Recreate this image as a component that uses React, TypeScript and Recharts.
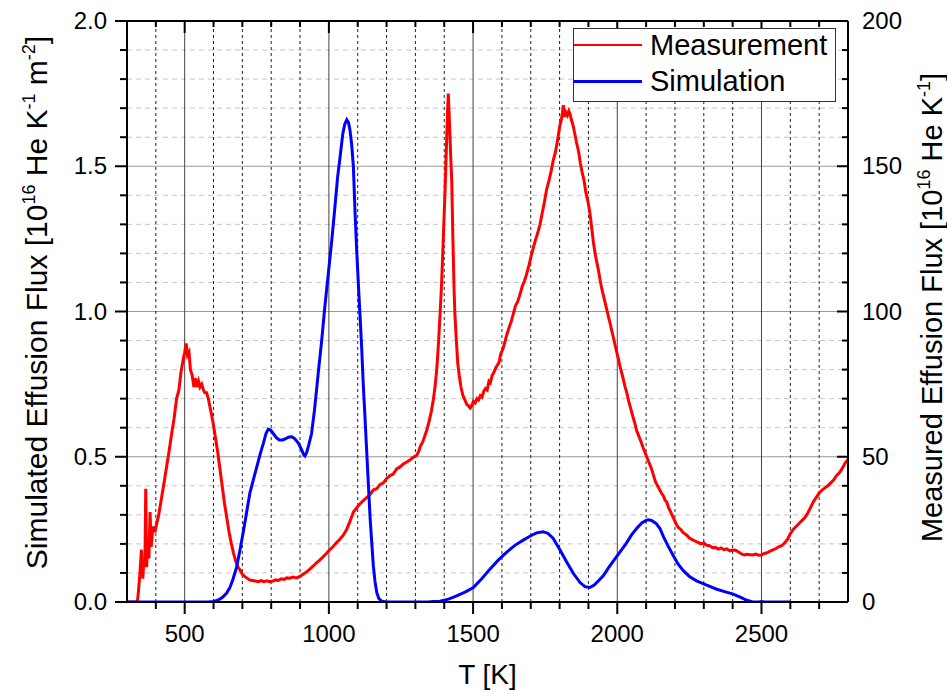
import React from "react";
import { LineChart, Line, XAxis, YAxis, ReferenceLine, Legend } from "recharts";

// measured effusion flux (right axis, 1e16 He/K)
const measT = [
  300, 330, 336, 340, 345, 350, 355, 358, 362, 365,
  368, 372, 376, 380, 384, 388, 392, 397, 403, 410,
  420, 430, 438, 446, 455, 463, 472, 480, 487, 494,
  500, 505, 510, 515, 520, 526, 532, 537, 542, 548,
  553, 559, 565, 570, 576, 582, 590, 598, 606, 614,
  622, 630, 638, 646, 654, 662, 669, 677, 685, 692,
  700, 708, 715, 725, 735, 745, 755, 765, 775, 785,
  795, 806, 815, 825, 835, 845, 854, 865, 875, 888,
  900, 912, 923, 935, 946, 958, 969, 980, 992, 1003,
  1014, 1026, 1038, 1050, 1062, 1074, 1085, 1097, 1108, 1120,
  1132, 1143, 1155, 1166, 1178, 1189, 1200, 1212, 1223, 1235,
  1247, 1258, 1270, 1282, 1293, 1305, 1312, 1318, 1325, 1332,
  1339, 1347, 1355, 1362, 1368, 1374, 1380, 1386, 1391, 1397,
  1403, 1408, 1412, 1414, 1417, 1420, 1423, 1426, 1430, 1434,
  1437, 1442, 1447, 1452, 1458, 1465, 1472, 1478, 1484, 1490,
  1495, 1501, 1507, 1513, 1519, 1525, 1531, 1537, 1543, 1549,
  1555, 1560, 1566, 1572, 1578, 1584, 1590, 1596, 1603, 1609,
  1617, 1625, 1632, 1639, 1647, 1655, 1663, 1670, 1678, 1686,
  1694, 1701, 1709, 1716, 1724, 1732, 1740, 1747, 1755, 1763,
  1771, 1778, 1786, 1793, 1801, 1806, 1810, 1813, 1817, 1822,
  1827, 1832, 1836, 1841, 1847, 1853, 1859, 1866, 1872, 1878,
  1885, 1891, 1898, 1905, 1911, 1917, 1923, 1929, 1935, 1941,
  1947, 1952, 1958, 1964, 1970, 1975, 1983, 1990, 1997, 2004,
  2011, 2019, 2026, 2033, 2040, 2047, 2055, 2061, 2067, 2075,
  2083, 2090, 2096, 2102, 2110, 2118, 2126, 2132, 2137, 2145,
  2153, 2160, 2166, 2171, 2178, 2185, 2192, 2199, 2206, 2213,
  2220, 2227, 2234, 2241, 2250, 2260, 2270, 2280, 2290, 2300,
  2310, 2320, 2330, 2340, 2350, 2360, 2370, 2380, 2390, 2400,
  2410, 2420, 2430, 2440, 2450, 2460, 2470, 2480, 2490, 2500,
  2510, 2520, 2530, 2540, 2550, 2560, 2570, 2580, 2590, 2600,
  2610, 2620, 2630, 2640, 2650, 2660, 2670, 2680, 2690, 2700,
  2710, 2720, 2730, 2740, 2750, 2760, 2770, 2780, 2790, 2800,
];
const measFlux = [
  0, 0, 0, 4, 10, 18, 8, 14, 12, 39,
  12, 20, 15, 31, 19, 24, 26, 24, 27, 30,
  36, 42, 47, 52, 58, 63, 70, 73, 79, 83,
  86, 89, 85, 86, 80, 78, 74, 77, 74, 76,
  74, 75, 73, 72, 72, 70, 66, 62, 57, 52,
  46, 40, 34, 29, 24, 20, 17, 14, 12, 11,
  9.5, 8.8, 8.3, 7.6, 7.4, 7.2, 7.0, 7.4, 7.0, 7.3,
  7.0, 7.2, 7.6, 7.4, 8.0, 7.8, 8.3, 8.2, 8.6, 8.3,
  8.8, 9.6, 10.4, 11.4, 12.4, 13.6, 14.5, 15.6, 16.8, 18,
  19, 20.4, 21.6, 23, 25, 28, 31, 32.5, 33.8, 35,
  36, 37, 38.6, 39, 40.5, 41, 42.5, 43.5, 44, 45.8,
  46.5, 47.5, 48.2, 49, 49.8, 50.5, 52, 53.8, 55, 57,
  59, 62, 65.5, 69.5, 74, 80, 89, 100, 110, 126,
  142, 158, 170, 175, 168, 160, 152, 145, 125, 108,
  99, 90, 82, 78, 74, 71, 69.5, 68, 67.5, 66.8,
  67.5, 69, 68.5, 70, 69.5, 71, 70.5, 72.5, 73.5, 73,
  76, 75.5, 78, 79, 80.5, 81.5, 82.5, 85.5, 87, 89,
  92, 94.5, 96.5, 99, 102, 103.5, 106, 108.5, 110.5, 113,
  116, 119, 122, 124.5, 127, 130, 134, 137.5, 142, 145,
  148.5, 152, 155, 159, 164, 166, 168.5, 171, 167, 168.5,
  167.5, 169, 168, 166, 164, 161, 158, 155, 151, 148,
  145, 141, 138, 134, 129, 124, 120, 117, 114, 110.5,
  107.5, 105.5, 103, 100.5, 98, 96, 92.5, 89.5, 86.5, 83.5,
  80.5, 77.5, 74.5, 72, 69, 66.5, 63.5, 61.5, 59, 57,
  55, 53, 51.5, 50, 48, 46, 43.5, 41.5, 40.5, 39,
  37.5, 36.5, 35, 34.5, 32.5, 31, 29.5, 28, 26.5, 25.5,
  25, 24, 23.5, 23, 22, 21.5, 21, 20.5, 20, 20.3,
  19.5, 19.4, 18.7, 18.8, 18.2, 18.6, 18, 18.3, 17.6, 17.9,
  17.8, 17.2, 16.6, 16.2, 16.4, 16.3, 16.2, 16.5, 16.1, 16.2,
  16.7, 17, 17.5, 17.9, 18.4, 19, 19.4, 20.3, 21.5, 23.5,
  25, 26, 27, 28, 29, 30.5, 32.5, 34.5, 36, 37.5,
  38.5, 39.3, 40, 41, 42, 43.5, 44.5, 46, 47.8, 49,
];

// simulated effusion flux (left axis, 1e16 He/K/m2)
const simT = [
  300, 400, 500, 580, 600, 615, 630, 645, 657, 668,
  680, 692, 703, 715, 726, 738, 750, 762, 773, 782,
  790, 798, 807, 818, 828, 840, 852, 862, 872, 882,
  894, 905, 912, 917, 923, 930, 940, 950, 963, 975,
  986, 998, 1010, 1020, 1030, 1039, 1048, 1055, 1062, 1068,
  1073, 1079, 1085, 1090, 1096, 1102, 1108, 1114, 1119, 1125,
  1131, 1137, 1143, 1149, 1154, 1160, 1166, 1173, 1183, 1200,
  1300, 1350, 1385, 1415, 1443, 1472, 1501, 1530, 1559, 1588,
  1617, 1645, 1674, 1700, 1720, 1743, 1760, 1778, 1801, 1825,
  1848, 1871, 1888, 1905, 1920, 1935, 1952, 1970, 1990, 2009,
  2030, 2050, 2067, 2085, 2100, 2108, 2120, 2135, 2148, 2160,
  2175, 2194, 2210, 2229, 2250, 2275, 2310, 2345, 2375, 2402,
  2430, 2449, 2470, 2490, 2500, 2510, 2600,
];
const simFlux = [
  0, 0, 0, 0, 0.002, 0.006, 0.015, 0.03, 0.05, 0.08,
  0.12, 0.18, 0.24, 0.31, 0.375, 0.42, 0.465, 0.51, 0.547, 0.58,
  0.595, 0.592, 0.58, 0.566, 0.558, 0.558, 0.563, 0.568, 0.569, 0.562,
  0.547, 0.525, 0.508, 0.503, 0.515, 0.54, 0.58, 0.66, 0.787, 0.9,
  1.017, 1.13, 1.245, 1.35, 1.46, 1.533, 1.61, 1.645, 1.66, 1.65,
  1.626, 1.575, 1.498, 1.36, 1.219, 1.1, 0.986, 0.87, 0.753, 0.64,
  0.521, 0.405, 0.288, 0.2, 0.126, 0.07, 0.033, 0.012, 0.003, 0,
  0, 0.001, 0.003, 0.01, 0.021, 0.034, 0.05, 0.08, 0.114, 0.145,
  0.172, 0.195, 0.213, 0.228, 0.238, 0.242, 0.236, 0.219, 0.18, 0.137,
  0.098, 0.067, 0.053, 0.05, 0.058, 0.073, 0.091, 0.118, 0.146, 0.172,
  0.2, 0.232, 0.253, 0.272, 0.281, 0.283, 0.28, 0.27, 0.253, 0.225,
  0.195, 0.16, 0.132, 0.108, 0.088, 0.073, 0.058, 0.044, 0.035, 0.027,
  0.015, 0.006, 0, 0, 0.002, 0, 0,
];

const xMajorTicks = [500, 1000, 1500, 2000, 2500];
const xMinorTicks = [400, 600, 700, 800, 900, 1100, 1200, 1300, 1400, 1600, 1700, 1800, 1900, 2100, 2200, 2300, 2400, 2600, 2700];
const leftMajorTicks = [0, 0.5, 1.0, 1.5, 2.0];
const leftMinorTicks = [0.1, 0.2, 0.3, 0.4, 0.6, 0.7, 0.8, 0.9, 1.1, 1.2, 1.3, 1.4, 1.6, 1.7, 1.8, 1.9];
const rightMajorTicks = [0, 50, 100, 150, 200];
const rightMinorTicks = [10, 20, 30, 40, 60, 70, 80, 90, 110, 120, 130, 140, 160, 170, 180, 190];

const FONT = "'Liberation Sans', Arial, sans-serif";

const measData = measT.map((T, i) => ({ T, v: measFlux[i] }));
const simData = simT.map((T, i) => ({ T, v: simFlux[i] }));
const xTicks = [...xMajorTicks, ...xMinorTicks].sort((a, b) => a - b);
const leftTicks = [...leftMajorTicks, ...leftMinorTicks].sort((a, b) => a - b);
const rightTicks = [...rightMajorTicks, ...rightMinorTicks].sort((a, b) => a - b);

const axisLine = { stroke: "#000", strokeWidth: 2 };

function BottomTick({ x, y, payload }: any) {
  const major = xMajorTicks.includes(payload.value);
  return (
    <g>
      <line x1={x} x2={x} y1={y} y2={y + (major ? 12 : 7)} stroke="#000" strokeWidth={2} />
      {major && (
        <text x={x} y={y + 40} textAnchor="middle" fontSize={24} fontFamily={FONT} fill="#000">
          {payload.value}
        </text>
      )}
    </g>
  );
}

function TopTick({ x, y, payload }: any) {
  const major = xMajorTicks.includes(payload.value);
  return <line x1={x} x2={x} y1={y} y2={y + (major ? 12 : 6)} stroke="#000" strokeWidth={2} />;
}

function LeftTick({ x, y, payload }: any) {
  const major = leftMajorTicks.includes(payload.value);
  return (
    <g>
      <line x1={x - (major ? 12 : 7)} x2={x} y1={y} y2={y} stroke="#000" strokeWidth={2} />
      {major && (
        <text x={x - 20} y={y + 8} textAnchor="end" fontSize={24} fontFamily={FONT} fill="#000">
          {payload.value.toFixed(1)}
        </text>
      )}
    </g>
  );
}

function RightTick({ x, y, payload }: any) {
  const major = rightMajorTicks.includes(payload.value);
  return (
    <g>
      <line x1={x - (major ? 11 : 6)} x2={x} y1={y} y2={y} stroke="#000" strokeWidth={2} />
      {major && (
        <text x={x + 14} y={y + 8} textAnchor="start" fontSize={24} fontFamily={FONT} fill="#000">
          {payload.value}
        </text>
      )}
    </g>
  );
}

function BottomTitle({ viewBox }: any) {
  const { x, y, width } = viewBox;
  return (
    <text x={x + width / 2} y={y + 82} textAnchor="middle" fontSize={28} fontFamily={FONT} fill="#000">
      T [K]
    </text>
  );
}

function LeftTitle({ viewBox }: any) {
  const { x, y, height } = viewBox;
  const cx = x + 47;
  const cy = y + height / 2 - 9;
  return (
    <text x={cx} y={cy} transform={`rotate(-90 ${cx} ${cy})`} textAnchor="middle" fontSize={30} fontFamily={FONT} fill="#000">
      Simulated Effusion Flux [10<tspan dy={-12} fontSize={18}>16</tspan>
      <tspan dy={12}> He K</tspan><tspan dy={-12} fontSize={18}>-1</tspan>
      <tspan dy={12}> m</tspan><tspan dy={-12} fontSize={18}>-2</tspan>
      <tspan dy={12}>]</tspan>
    </text>
  );
}

function RightTitle({ viewBox }: any) {
  const { x, y, height } = viewBox;
  const cx = x + 94;
  const cy = y + height / 2 - 4;
  return (
    <text x={cx} y={cy} transform={`rotate(-90 ${cx} ${cy})`} textAnchor="middle" fontSize={29} fontFamily={FONT} fill="#000">
      Measured Effusion Flux [10<tspan dy={-12} fontSize={18}>16</tspan>
      <tspan dy={12}> He K</tspan><tspan dy={-12} fontSize={18}>-1</tspan>
      <tspan dy={12}>]</tspan>
    </text>
  );
}

function LegendBox({ payload }: any) {
  const items = payload || [];
  return (
    <div
      style={{
        boxSizing: "border-box",
        width: 263,
        height: 74,
        border: "1px solid #333",
        background: "#fff",
        fontFamily: FONT,
      }}
    >
      {items.map((item: any, i: number) => (
        <div key={item.value} style={{ display: "flex", alignItems: "center", height: 36, marginTop: i === 0 ? -2 : 0 }}>
          <div style={{ width: 68, height: i === 0 ? 2 : 3, background: item.color }} />
          <span style={{ marginLeft: 8, fontSize: 29, lineHeight: 1, color: "#000" }}>{item.value}</span>
        </div>
      ))}
    </div>
  );
}

export default function App() {
  return (
    <div style={{ position: "fixed", left: 0, top: 0, background: "#fff" }}>
      <LineChart width={947} height={692} margin={{ top: 20, right: 0, bottom: 0, left: 0 }}>
        <XAxis
          xAxisId="x"
          dataKey="T"
          type="number"
          orientation="bottom"
          domain={[300, 2800]}
          allowDataOverflow
          ticks={xTicks}
          interval={0}
          height={90}
          tickSize={0}
          tickMargin={0}
          tickLine={false}
          axisLine={axisLine}
          tick={BottomTick}
          label={BottomTitle}
        />
        <XAxis
          xAxisId="top"
          dataKey="T"
          type="number"
          orientation="top"
          domain={[300, 2800]}
          allowDataOverflow
          ticks={xTicks}
          interval={0}
          height={1}
          tickSize={0}
          tickMargin={0}
          tickLine={false}
          axisLine={axisLine}
          tick={TopTick}
        />
        <YAxis
          yAxisId="left"
          type="number"
          orientation="left"
          domain={[0, 2]}
          allowDataOverflow
          ticks={leftTicks}
          interval={0}
          width={127}
          tickSize={0}
          tickMargin={0}
          tickLine={false}
          axisLine={axisLine}
          tick={LeftTick}
          label={LeftTitle}
        />
        <YAxis
          yAxisId="right"
          type="number"
          orientation="right"
          domain={[0, 200]}
          allowDataOverflow
          ticks={rightTicks}
          interval={0}
          width={99}
          tickSize={0}
          tickMargin={0}
          tickLine={false}
          axisLine={axisLine}
          tick={RightTick}
          label={RightTitle}
        />

        {leftMinorTicks.map((v) => (
          <ReferenceLine key={`hm${v}`} xAxisId="x" yAxisId="left" y={v} stroke="#c8c8c8" strokeDasharray="5 4" strokeWidth={1} zIndex={-20} />
        ))}
        {leftMajorTicks.slice(1, -1).map((v) => (
          <ReferenceLine key={`hM${v}`} xAxisId="x" yAxisId="left" y={v} stroke="#999" strokeWidth={1} zIndex={-20} />
        ))}
        {xMinorTicks.map((t) => (
          <ReferenceLine key={`vm${t}`} xAxisId="x" yAxisId="left" x={t} stroke="#222" strokeDasharray="3 3" strokeWidth={1} zIndex={-10} />
        ))}
        {xMajorTicks.map((t) => (
          <ReferenceLine key={`vM${t}`} xAxisId="x" yAxisId="left" x={t} stroke="#444" strokeWidth={1} zIndex={-10} />
        ))}

        <Line
          xAxisId="x"
          yAxisId="right"
          data={measData}
          dataKey="v"
          name="Measurement"
          type="linear"
          stroke="#ff0000"
          strokeWidth={3}
          dot={false}
          activeDot={false}
          isAnimationActive={false}
        />
        <Line
          xAxisId="x"
          yAxisId="left"
          data={simData}
          dataKey="v"
          name="Simulation"
          type="linear"
          stroke="#0000ff"
          strokeWidth={3}
          dot={false}
          activeDot={false}
          isAnimationActive={false}
        />
        <Legend
          layout="vertical"
          align="center"
          verticalAlign="middle"
          wrapperStyle={{ left: 573, top: 28, width: 263 }}
          content={LegendBox}
        />
      </LineChart>
    </div>
  );
}
